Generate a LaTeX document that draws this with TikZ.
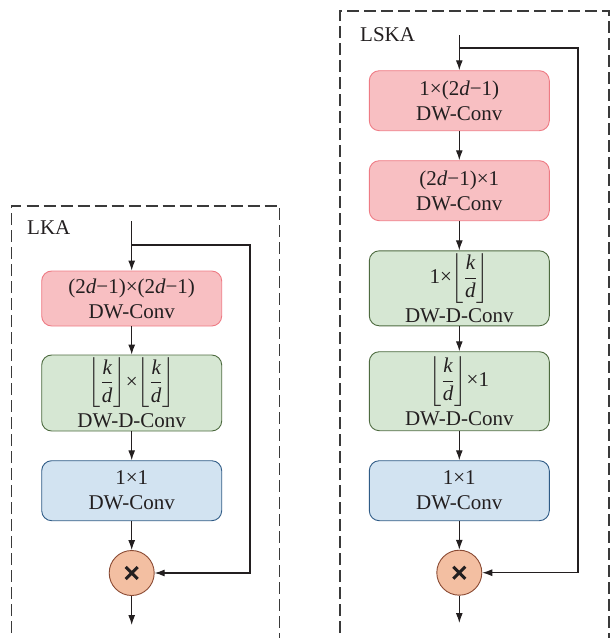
\documentclass[tikz,border=0pt]{standalone}
\usepackage{fontspec}
\usepackage{amsmath}
\setmainfont{Liberation Serif}
\usetikzlibrary{arrows.meta}
\definecolor{txt}{HTML}{231F20}
\definecolor{pinkF}{HTML}{F8BFC2}
\definecolor{pinkD}{HTML}{EE7B84}
\definecolor{greenF}{HTML}{D6E7D3}
\definecolor{greenD}{HTML}{4E6B40}
\definecolor{blueF}{HTML}{D2E3F1}
\definecolor{blueD}{HTML}{2F5B86}
\definecolor{circF}{HTML}{F3BFA2}
\definecolor{circD}{HTML}{8A4A33}
\definecolor{dashC}{HTML}{3A3A3A}
\newcommand{\flr}{$\bigg\lfloor\dfrac{\mbox{\itshape k}}{\mbox{\itshape d}}\bigg\rfloor$}
\tikzset{
  blk/.style={rectangle, rounded corners=10pt, minimum width=180pt, line width=0.9pt,
    align=center, inner sep=2pt, font=\fontsize{21}{25}\selectfont, text=txt},
  pinkbox/.style={blk, draw=pinkD, fill=pinkF},
  greenbox/.style={blk, draw=greenD, fill=greenF, inner ysep=0pt},
  bluebox/.style={blk, draw=blueD, fill=blueF},
  mulc/.style={circle, draw=circD, fill=circF, line width=0.9pt, minimum size=45pt, inner sep=0pt},
  arr/.style={line width=1.1pt, draw=txt, -{Latex[length=10pt,width=7pt]}},
  frame/.style={draw=dashC, line width=1.2pt, dash pattern=on 12pt off 5pt},
  lbl/.style={anchor=base west, inner sep=0pt, font=\fontsize{21}{25}\selectfont, text=txt}
}
\begin{document}
\begin{tikzpicture}[x=1pt,y=-1pt]
\useasboundingbox (0,0) rectangle (611,638);
% frames
\draw[frame] (11.5,650) -- (11.5,206) -- (279.5,206) -- (279.5,650);
\draw[frame] (340,650) -- (340,11) -- (609,11) -- (609,650);
\node[lbl] (tL) at (27,234) {LKA};
\node[lbl] (tS) at (360,41) {LSKA};
% ---- LKA
\node[pinkbox, minimum height=55pt] (a1) at (131.7,298.5) {(2{\itshape d}−1)×(2{\itshape d}−1)\\DW-Conv};
\node[greenbox, minimum height=76pt] (a2) at (131.7,393) {\flr{}×\flr{}\\[5pt]DW-D-Conv};
\node[bluebox, minimum height=60pt] (a3) at (131.7,490.7) {1×1\\DW-Conv};
\node[mulc] (aC) at (131.7,573) {};
\coordinate (aIn) at (131.7,221);
\coordinate (aBr) at (131.7,245);
\coordinate (aOut) at (131.7,625);
\draw[arr] (aIn) -- (a1);
\draw[arr] (a1) -- (a2);
\draw[arr] (a2) -- (a3);
\draw[arr] (a3) -- (aC);
\draw[arr] (aC) -- (aOut);
\draw[arr] (aBr) -- (250,245) |- (aC.east);
\draw[line width=3pt, draw=txt] ([shift={(-6,-6)}]aC.center) -- ([shift={(6,6)}]aC.center)
  ([shift={(-6,6)}]aC.center) -- ([shift={(6,-6)}]aC.center);
% ---- LSKA
\node[pinkbox, minimum height=60pt] (b1) at (459.3,100.7) {1×(2{\itshape d}−1)\\DW-Conv};
\node[pinkbox, minimum height=60pt] (b2) at (459.3,190.7) {(2{\itshape d}−1)×1\\DW-Conv};
\node[greenbox, minimum height=75pt] (b3) at (459.3,288.3) {1×\flr{}\\[5pt]DW-D-Conv};
\node[greenbox, minimum height=79pt] (b4) at (459.3,391.2) {\flr{}×1\\[5pt]DW-D-Conv};
\node[bluebox, minimum height=60pt] (b5) at (459.3,490.7) {1×1\\DW-Conv};
\node[mulc] (bC) at (459.3,572.7) {};
\coordinate (bIn) at (459.3,35);
\coordinate (bBr) at (459.3,48);
\coordinate (bOut) at (459.3,623);
\draw[arr] (bIn) -- (b1);
\draw[arr] (b1) -- (b2);
\draw[arr] (b2) -- (b3);
\draw[arr] (b3) -- (b4);
\draw[arr] (b4) -- (b5);
\draw[arr] (b5) -- (bC);
\draw[arr] (bC) -- (bOut);
\draw[arr] (bBr) -- (578,48) |- (bC.east);
\draw[line width=3pt, draw=txt] ([shift={(-6,-6)}]bC.center) -- ([shift={(6,6)}]bC.center)
  ([shift={(-6,6)}]bC.center) -- ([shift={(6,-6)}]bC.center);
\end{tikzpicture}
\end{document}
